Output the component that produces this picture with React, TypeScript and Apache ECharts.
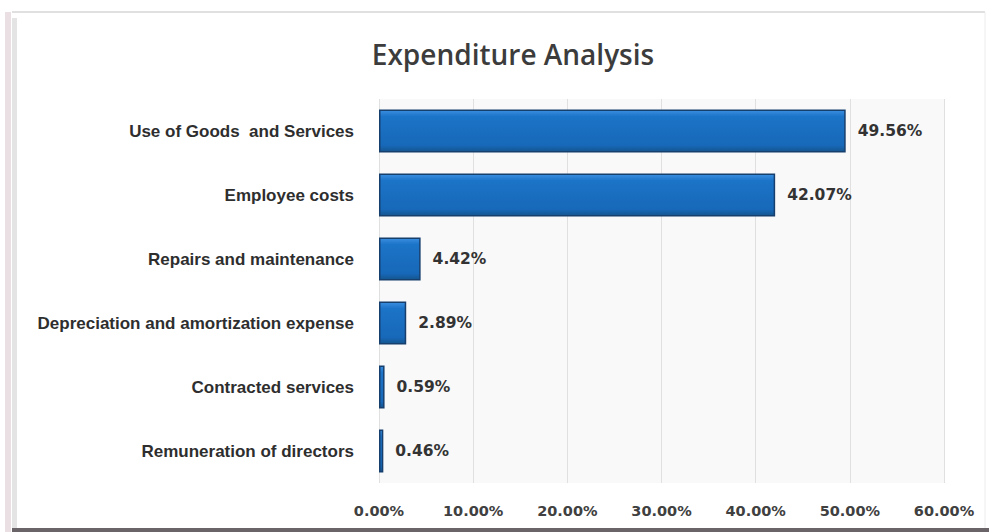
import React, { useEffect, useRef } from "react";
import * as echarts from "echarts";

const categories = [
  "Use of Goods  and Services",
  "Employee costs",
  "Repairs and maintenance",
  "Depreciation and amortization expense",
  "Contracted services",
  "Remuneration of directors",
];
const values = [49.56, 42.07, 4.42, 2.89, 0.59, 0.46];
const axisMax = 60;
const axisInterval = 10;

export default function App() {
  const ref = useRef<HTMLDivElement>(null);
  useEffect(() => {
    if (!ref.current) return;
    const chart = echarts.init(ref.current, null, { renderer: "svg" });
    chart.setOption({
      animation: false,
      backgroundColor: "#ffffff",
      title: {
        text: "Expenditure Analysis",
        left: 508,
        textAlign: "center",
        top: 35,
        textStyle: {
          fontFamily: "Open Sans",
          fontWeight: 600,
          fontSize: 28,
          color: "#3c3c3c",
        },
      },
      graphic: [
        { type: "rect", shape: { x: 5, y: 12, width: 6, height: 520 }, style: { fill: "#eadfe3" }, silent: true },
        { type: "rect", shape: { x: 12, y: 18, width: 5, height: 512 }, style: { fill: "#e4e4e4" }, silent: true },
        { type: "line", shape: { x1: 12, y1: 12, x2: 985, y2: 12 }, style: { stroke: "#e0e0e0", lineWidth: 2 }, silent: true },
        { type: "line", shape: { x1: 985, y1: 12, x2: 985, y2: 528 }, style: { stroke: "#ececec", lineWidth: 1 }, silent: true },
        { type: "rect", shape: { x: 12, y: 528, width: 977, height: 4 }, style: { fill: "#6a6468" }, silent: true },
      ],
      grid: {
        left: 379,
        right: 45,
        top: 99,
        bottom: 49,
        show: true,
        backgroundColor: "#f9f9f9",
        borderWidth: 0,
      },
      xAxis: {
        type: "value",
        min: 0,
        max: axisMax,
        interval: axisInterval,
        axisLine: { show: false },
        axisTick: { show: false },
        splitLine: { show: true, lineStyle: { color: "#e0e0e0", width: 1 } },
        axisLabel: {
          formatter: (v: number) => v.toFixed(2) + "%",
          fontFamily: "DejaVu Sans",
          fontWeight: "bold",
          fontSize: 14.5,
          color: "#404040",
          margin: 20,
        },
      },
      yAxis: {
        type: "category",
        data: categories,
        inverse: true,
        axisLine: { show: false },
        axisTick: { show: false },
        splitLine: { show: false },
        axisLabel: {
          fontFamily: "Liberation Sans",
          fontWeight: "bold",
          fontSize: 17,
          color: "#2e2e2e",
          margin: 25,
        },
      },
      series: [
        {
          type: "bar",
          data: values,
          barWidth: "67%",
          itemStyle: {
            color: new echarts.graphic.LinearGradient(0, 0, 0, 1, [
              { offset: 0, color: "#3a8ee0" },
              { offset: 0.15, color: "#1c74c8" },
              { offset: 0.85, color: "#1768b8" },
              { offset: 1, color: "#14558f" },
            ]),
            borderColor: "#173f6e",
            borderWidth: 1.5,
          },
          label: {
            show: true,
            position: "right",
            distance: 12,
            formatter: (p: any) => p.value.toFixed(2) + "%",
            fontFamily: "DejaVu Sans",
            fontWeight: "bold",
            fontSize: 15.5,
            color: "#333333",
          },
        },
      ],
    });
    return () => chart.dispose();
  }, []);
  return (
    <div
      ref={ref}
      style={{ position: "absolute", left: 0, top: 0, width: 989, height: 532 }}
    />
  );
}
